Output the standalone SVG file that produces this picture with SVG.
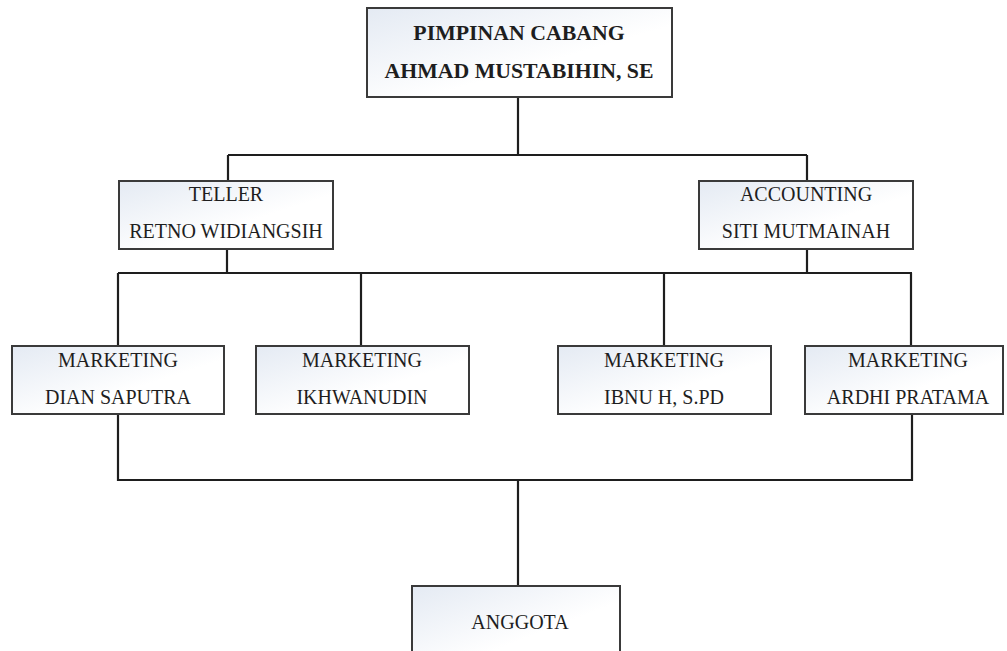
<svg xmlns="http://www.w3.org/2000/svg" width="1007" height="651" viewBox="0 0 1007 651">
<defs>
<linearGradient id="g" x1="0" y1="0" x2="1" y2="1">
<stop offset="0" stop-color="#e4eaf3"/>
<stop offset="0.6" stop-color="#ffffff"/>
<stop offset="1" stop-color="#ffffff"/>
</linearGradient>
<style>
.box{fill:url(#g);stroke:#3a3a3a;stroke-width:2}
.t{font-family:"Liberation Serif","Times New Roman",serif;font-size:20px;fill:#1e1e1e;text-anchor:middle}
.b{font-weight:bold;font-size:21.8px}
.c{fill:none;stroke:#1e1e1e;stroke-width:2.2}
</style>
</defs>
<rect width="1007" height="651" fill="#ffffff"/>
<g id="connectors">
<path class="c" d="M518 97V155M228 155H807M228 155V181M807 155V181"/>
<path class="c" d="M227 249V273M807 249V273M118 273H912M118 273V346M361 273V346M664 273V346M911 273V346"/>
<path class="c" d="M118 414V480H912V414M518 480V586"/>
</g>
<g id="n-pimpinan">
<rect class="box" x="367" y="8" width="305" height="89"/>
<text class="t b" x="519" y="40">PIMPINAN CABANG</text>
<text class="t b" x="519" y="78">AHMAD MUSTABIHIN, SE</text>
</g>
<g id="n-teller">
<rect class="box" x="119" y="181" width="214" height="68"/>
<text class="t" x="226" y="201">TELLER</text>
<text class="t" x="226" y="238">RETNO WIDIANGSIH</text>
</g>
<g id="n-accounting">
<rect class="box" x="699" y="181" width="214" height="68"/>
<text class="t" x="806" y="201">ACCOUNTING</text>
<text class="t" x="806" y="238">SITI MUTMAINAH</text>
</g>
<g id="n-m1">
<rect class="box" x="12" y="346" width="212" height="68"/>
<text class="t" x="118" y="367">MARKETING</text>
<text class="t" x="118" y="404">DIAN SAPUTRA</text>
</g>
<g id="n-m2">
<rect class="box" x="256" y="346" width="213" height="68"/>
<text class="t" x="362" y="367">MARKETING</text>
<text class="t" x="362" y="404">IKHWANUDIN</text>
</g>
<g id="n-m3">
<rect class="box" x="558" y="346" width="213" height="68"/>
<text class="t" x="664" y="367">MARKETING</text>
<text class="t" x="664" y="404">IBNU H, S.PD</text>
</g>
<g id="n-m4">
<rect class="box" x="805" y="346" width="198" height="68"/>
<text class="t" x="908" y="367">MARKETING</text>
<text class="t" x="908" y="404">ARDHI PRATAMA</text>
</g>
<g id="n-anggota">
<rect class="box" x="412" y="586" width="208" height="80"/>
<text class="t" x="520" y="629">ANGGOTA</text>
</g>
</svg>
